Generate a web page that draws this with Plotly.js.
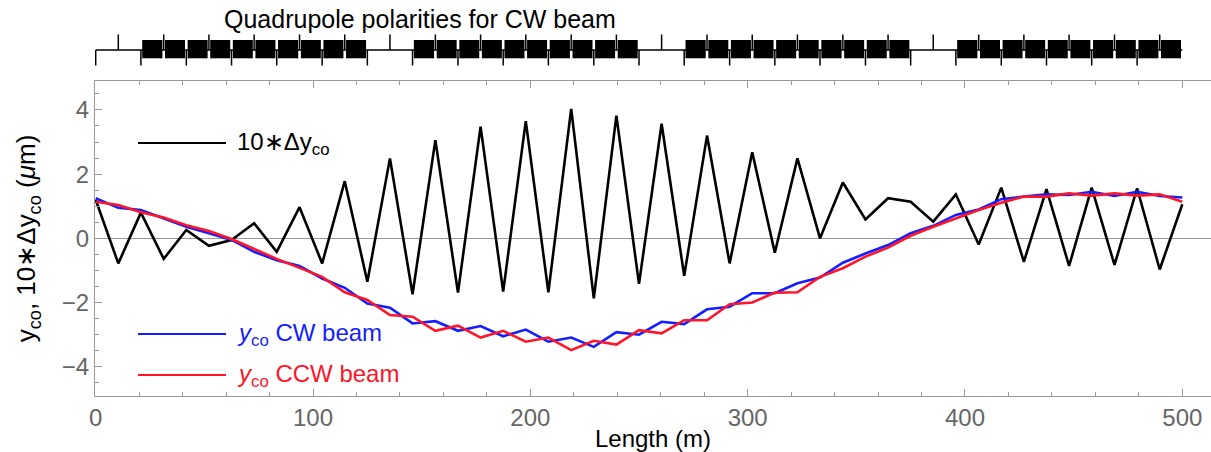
<!DOCTYPE html>
<html><head><meta charset="utf-8">
<script src="https://cdn.plot.ly/plotly-3.0.1.min.js"></script>
<style>html,body{margin:0;padding:0;background:#fff}</style>
</head><body><div id="chart" style="width:1211px;height:452px"></div>
<script>
// Longitudinal position of each quadrupole / BPM (m)
const lengthM = [0, 10.4, 20.8, 31.3, 41.7, 52.1, 62.5, 72.9, 83.3, 93.8, 104.2, 114.6,
  125, 135.4, 145.8, 156.3, 166.7, 177.1, 187.5, 197.9, 208.3, 218.8, 229.2, 239.6,
  250, 260.4, 270.8, 281.3, 291.7, 302.1, 312.5, 322.9, 333.3, 343.8, 354.2, 364.6,
  375, 385.4, 395.8, 406.3, 416.7, 427.1, 437.5, 447.9, 458.3, 468.8, 479.2, 489.6, 500];

// 10 * difference of closed orbits (µm)
const dyCo10 = [1.2, -0.78, 0.8, -0.64, 0.26, -0.23, -0.05, 0.47, -0.42, 0.97, -0.78, 1.78,
  -1.35, 2.49, -1.74, 3.06, -1.69, 3.48, -1.66, 3.65, -1.68, 4.03, -1.87, 3.82,
  -1.42, 3.57, -1.17, 3.2, -0.78, 2.68, -0.45, 2.49, 0.0, 1.74, 0.59, 1.25,
  1.14, 0.52, 1.37, -0.19, 1.58, -0.73, 1.53, -0.86, 1.58, -0.83, 1.56, -0.97, 1.06];

// Closed orbit, CW beam (µm)
const yCW = [1.25, 0.95, 0.88, 0.62, 0.36, 0.16, -0.05, -0.42, -0.68, -0.86, -1.25, -1.54,
  -2.03, -2.16, -2.65, -2.58, -2.88, -2.73, -3.05, -2.84, -3.22, -3.09, -3.38, -2.92,
  -3.0, -2.6, -2.67, -2.21, -2.13, -1.71, -1.71, -1.4, -1.22, -0.76, -0.47, -0.21,
  0.16, 0.39, 0.73, 0.9, 1.22, 1.3, 1.37, 1.35, 1.45, 1.32, 1.45, 1.32, 1.27];

// Closed orbit, CCW beam (µm)
const yCCW = [1.14, 1.04, 0.81, 0.65, 0.41, 0.23, -0.02, -0.34, -0.64, -0.92, -1.2, -1.68,
  -1.92, -2.39, -2.44, -2.88, -2.72, -3.09, -2.88, -3.22, -3.09, -3.48, -3.19, -3.31,
  -2.86, -2.96, -2.55, -2.55, -2.05, -2.0, -1.69, -1.68, -1.2, -0.93, -0.57, -0.29,
  0.08, 0.36, 0.62, 0.88, 1.11, 1.3, 1.3, 1.4, 1.33, 1.4, 1.33, 1.37, 1.14];

// Quadrupole polarity at each lattice point (+1 drawn upward, -1 downward)
const quadPolarity = [-1, 1, -1, 1, -1, 1, -1, 1, -1, 1, -1, 1,
  -1, 1, -1, 1, -1, 1, -1, 1, -1, 1, -1, 1,
  -1, 1, -1, 1, -1, 1, -1, 1, -1, 1, -1, 1,
  -1, 1, -1, 1, -1, 1, -1, 1, -1, 1, -1, 1];

// Element between consecutive quadrupoles: 'S' straight, 'B' bending element
const cellType = ['S','S','B','B','B','B','B','B','B','B','B','B',
  'S','S','B','B','B','B','B','B','B','B','B','B',
  'S','S','B','B','B','B','B','B','B','B','B','B',
  'S','S','B','B','B','B','B','B','B','B','B','B'];

const xTickVals = [0, 100, 200, 300, 400, 500];
const yTickVals = [-4, -2, 0, 2, 4];
const yTickText = ['\u22124', '\u22122', '0', '2', '4'];

const FONT = '"Liberation Sans", Arial, Helvetica, sans-serif';
const BLUE = 'rgb(20,30,255)';
const RED = 'rgb(255,20,40)';

const traces = [
  {x: lengthM, y: dyCo10, mode: 'lines', line: {color: '#000', width: 2.6}, showlegend: false, hoverinfo: 'skip'},
  {x: lengthM, y: yCW, mode: 'lines', line: {color: BLUE, width: 2.6}, showlegend: false, hoverinfo: 'skip'},
  {x: lengthM, y: yCCW, mode: 'lines', line: {color: RED, width: 2.6}, showlegend: false, hoverinfo: 'skip'}
];

// paper y helper from plot geometry (plot top 81px, height 315px)
const PT = 81, PH = 315;
const py = p => (PT + PH - p) / PH;

const shapes = [];
// quadrupole diagram baseline
shapes.push({type: 'line', xref: 'x', yref: 'paper', x0: lengthM[0], x1: lengthM[lengthM.length - 1],
  y0: py(50), y1: py(50), line: {color: '#000', width: 1.5}});
// bending elements (boxes)
for (let i = 0; i < cellType.length; i++) {
  if (cellType[i] === 'B') {
    shapes.push({type: 'rect', xref: 'x', yref: 'paper', x0: lengthM[i] + 0.6, x1: lengthM[i + 1] - 0.6,
      y0: py(58.3), y1: py(40), fillcolor: '#000', line: {width: 0}});
  }
}
// quadrupole polarity ticks
for (let k = 0; k < quadPolarity.length; k++) {
  const up = quadPolarity[k] > 0;
  shapes.push({type: 'line', xref: 'x', yref: 'paper', x0: lengthM[k], x1: lengthM[k],
    y0: py(50), y1: up ? py(34.5) : py(65.5), line: {color: '#000', width: 1.5}});
}
// legend samples
shapes.push({type: 'line', xref: 'paper', yref: 'paper', x0: (138 - 95) / 1116, x1: (226 - 95) / 1116,
  y0: py(143), y1: py(143), line: {color: '#000', width: 1.8}});
shapes.push({type: 'line', xref: 'paper', yref: 'paper', x0: (138 - 95) / 1116, x1: (226 - 95) / 1116,
  y0: py(334), y1: py(334), line: {color: BLUE, width: 1.8}});
shapes.push({type: 'line', xref: 'paper', yref: 'paper', x0: (138 - 95) / 1116, x1: (226 - 95) / 1116,
  y0: py(375), y1: py(375), line: {color: RED, width: 1.8}});

const annotations = [
  {text: 'Quadrupole polarities for CW beam', xref: 'paper', yref: 'paper', x: (420 - 95) / 1116, y: py(19),
    showarrow: false, font: {family: FONT, size: 25, color: '#000'}, xanchor: 'center', yanchor: 'middle'},
  {text: '10\u2217\u0394y<sub>co</sub>', xref: 'paper', yref: 'paper', x: (235 - 95) / 1116, y: py(143),
    showarrow: false, font: {family: FONT, size: 24, color: '#000'}, xanchor: 'left', yanchor: 'middle'},
  {text: '<i>y</i><sub>co</sub> CW beam', xref: 'paper', yref: 'paper', x: (235 - 95) / 1116, y: py(334),
    showarrow: false, font: {family: FONT, size: 24, color: BLUE}, xanchor: 'left', yanchor: 'middle'},
  {text: '<i>y</i><sub>co</sub> CCW beam', xref: 'paper', yref: 'paper', x: (235 - 95) / 1116, y: py(375),
    showarrow: false, font: {family: FONT, size: 24, color: RED}, xanchor: 'left', yanchor: 'middle'}
];

const layout = {
  width: 1211, height: 452,
  margin: {l: 95, r: 0, t: 81, b: 56},
  paper_bgcolor: '#fff', plot_bgcolor: '#fff',
  font: {family: FONT, size: 24, color: '#666'},
  xaxis: {
    range: [-0.32, 513.2], showgrid: false, zeroline: false,
    showline: true, linecolor: '#999', linewidth: 1, mirror: 'ticks',
    ticks: 'inside', ticklen: 7, tickcolor: '#999', tickwidth: 1,
    tickvals: xTickVals, ticktext: xTickVals.map(String),
    tickfont: {family: FONT, size: 24, color: '#666'},
    minor: {dtick: 20, tick0: 0, ticks: 'inside', ticklen: 4, tickcolor: '#999', showgrid: false},
    title: {text: 'Length (m)', font: {family: FONT, size: 24, color: '#000'}, standoff: 4}
  },
  yaxis: {
    range: [-4.91, 4.90], showgrid: false,
    zeroline: true, zerolinecolor: '#999', zerolinewidth: 1,
    showline: true, linecolor: '#999', linewidth: 1,
    ticks: 'inside', ticklen: 7, tickcolor: '#999', tickwidth: 1,
    tickvals: yTickVals, ticktext: yTickText,
    tickfont: {family: FONT, size: 24, color: '#666'},
    minor: {dtick: 0.5, tick0: 0, ticks: 'inside', ticklen: 4, tickcolor: '#999', showgrid: false},
    title: {text: 'y<sub>co</sub>, 10\u2217\u0394y<sub>co</sub> (<i>\u03bc</i>m)', font: {family: FONT, size: 26, color: '#000'}, standoff: 18}
  },
  shapes: shapes,
  annotations: annotations,
  showlegend: false
};

Plotly.newPlot('chart', traces, layout, {displayModeBar: false, staticPlot: true});
</script>
</body></html>
